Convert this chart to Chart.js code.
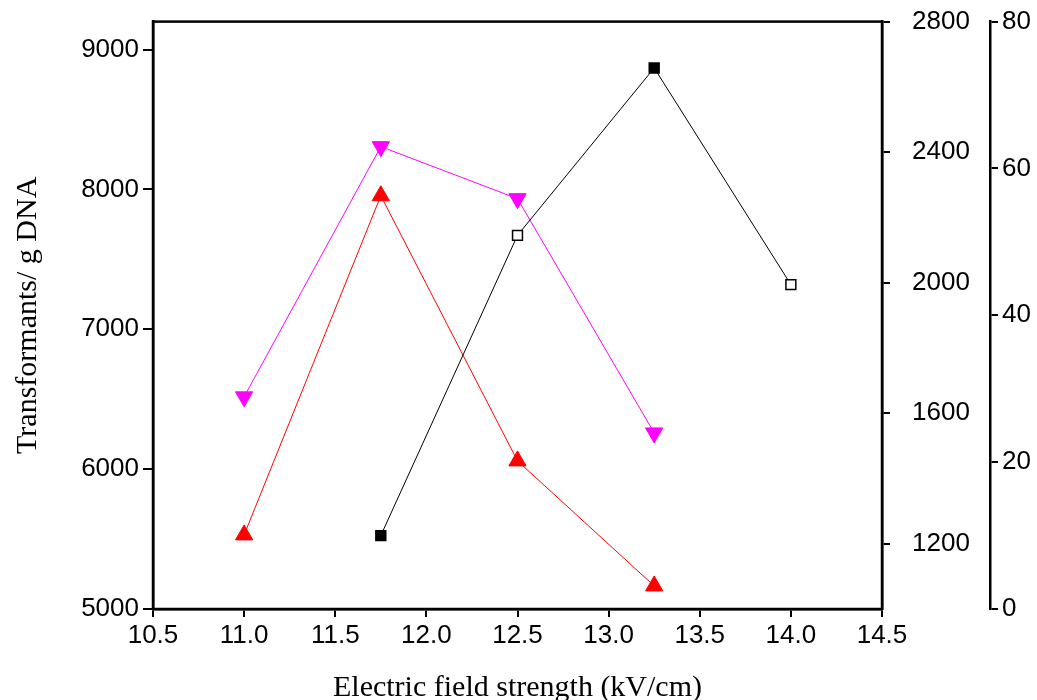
<!DOCTYPE html>
<html><head><meta charset="utf-8">
<script src="https://cdn.jsdelivr.net/npm/chart.js@4"></script>
<style>body{margin:0;background:#fff;overflow:hidden}#wrap{width:1037px;height:716px;margin-top:-16px}</style>
</head><body><div id="wrap"><canvas id="c"></canvas></div>
<script>
const fieldX = [11.0, 11.75, 12.5, 13.25, 14.0];
const squareVals = [null, 1225, 2145, 2658, 1994];
const squareFilled = [false, true, false, true, false];
const magentaVals = [6517, 8306, 7934, 6259];
const redVals = [5530, 7955, 6059, 5165];
const leftTicks = [5000, 6000, 7000, 8000, 9000];
const midTicks = [1200, 1600, 2000, 2400, 2800];
const farTicks = [0, 20, 40, 60, 80];
const xTicks = [10.5, 11.0, 11.5, 12.0, 12.5, 13.0, 13.5, 14.0, 14.5];

const pts = (vals) => vals.map((v, i) => ({x: fieldX[i], y: v})).filter(p => p.y !== null);
const tickFont = {family: "Liberation Sans", size: 26};
const fixTicks = arr => (s => { s.ticks = arr.map(v => ({value: v})); });
const plain = v => String(v);

const frame = {
  id: "frame",
  afterDraw(chart) {
    const {ctx, chartArea: a} = chart;
    ctx.save();
    ctx.strokeStyle = "#000"; ctx.lineWidth = 2.5;
    ctx.strokeRect(a.left, a.top, a.right - a.left, a.bottom - a.top);
    ctx.restore();
  }
};

new Chart(document.getElementById("c"), {
  type: "line",
  data: {
    datasets: [
      {data: pts(squareVals), yAxisID: "y2", borderColor: "#000", borderWidth: 1,
       pointStyle: "rect", pointRadius: 7, pointBorderColor: "#000", pointBorderWidth: 1.5,
       pointBackgroundColor: squareFilled.filter((f, i) => squareVals[i] !== null).map(f => f ? "#000" : "#fff")},
      {data: pts(magentaVals), yAxisID: "y", borderColor: "#ff00ff", borderWidth: 1,
       pointStyle: "triangle", rotation: 180, pointRadius: 10, pointBackgroundColor: "#ff00ff", pointBorderColor: "#ff00ff"},
      {data: pts(redVals), yAxisID: "y", borderColor: "#ff0000", borderWidth: 1,
       pointStyle: "triangle", pointRadius: 10, pointBackgroundColor: "#ff0000", pointBorderColor: "#ff0000"}
    ]
  },
  options: {
    responsive: true, maintainAspectRatio: false, animation: false,
    layout: {padding: {top: 6, right: 0, left: 0}},
    plugins: {legend: {display: false}, tooltip: {enabled: false}},
    scales: {
      x: {type: "linear", min: 10.5, max: 14.5, afterBuildTicks: fixTicks(xTicks),
          afterFit: s => { s.height = 91; },
          grid: {drawOnChartArea: false, color: "#000", tickLength: 8, lineWidth: 2},
          border: {color: "#000", width: 2.5},
          ticks: {font: tickFont, color: "#000", callback: v => v.toFixed(1)},
          title: {display: true, text: "Electric field strength (kV/cm)", color: "#000",
                  font: {family: "Liberation Serif", size: 30}, padding: {top: 0, bottom: -6}}},
      y: {position: "left", min: 5000, max: 9200, afterBuildTicks: fixTicks(leftTicks),
          afterFit: s => { s.width = 153; },
          grid: {drawOnChartArea: false, color: "#000", tickLength: 10, lineWidth: 2},
          border: {color: "#000", width: 2.5},
          ticks: {font: tickFont, color: "#000", padding: 4, callback: plain},
          title: {display: true, text: "Transformants/ g DNA", color: "#000",
                  font: {family: "Liberation Serif", size: 30}, padding: {top: 10, bottom: 2}}},
      y2: {position: "right", min: 1000, max: 2800, afterBuildTicks: fixTicks(midTicks),
           afterFit: s => { s.width = 108; },
           grid: {drawOnChartArea: false, color: "#000", tickLength: 8, lineWidth: 2},
           border: {color: "#000", width: 2.5},
           ticks: {font: tickFont, color: "#000", padding: 22, callback: plain}},
      y3: {position: "right", min: 0, max: 80, afterBuildTicks: fixTicks(farTicks),
           afterFit: s => { s.width = 47; },
           grid: {drawOnChartArea: false, color: "#000", tickLength: 8, lineWidth: 2},
           border: {color: "#000", width: 2.5},
           ticks: {font: tickFont, color: "#000", padding: 4, callback: plain}}
    }
  },
  plugins: [frame]
});
</script></body></html>
